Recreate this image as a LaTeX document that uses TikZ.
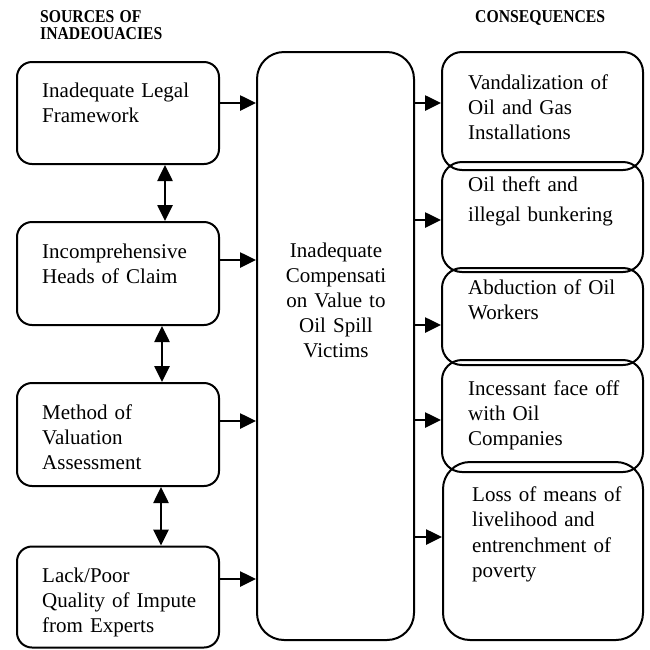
\documentclass[tikz,border=0pt]{standalone}
\usepackage{fontspec}
\setmainfont{Liberation Serif}
\usetikzlibrary{arrows.meta}

\tikzset{
  box/.style={draw, line width=2pt, rounded corners=15pt},
  txt/.style={anchor=base west, align=left, text width=190pt, inner sep=0pt,
    font=\fontsize{21}{25}\selectfont},
  heading/.style={anchor=base west, align=left, text width=150pt, inner sep=0pt,
    font=\bfseries\fontsize{15.7}{14.4}\selectfont, yscale=1.15, transform shape},
  arr/.style={line width=2.6pt, -{Triangle[length=16pt,width=15pt]}},
  dbl/.style={line width=2.6pt,
    {Triangle[length=16pt,width=15pt]}-{Triangle[length=16pt,width=15pt]}},
}

\begin{document}
\begin{tikzpicture}[x=1pt, y=-1pt]

    % Fix the page to the size of the figure
    \useasboundingbox (0,0) rectangle (650,649);

    % Column headings
    \node[heading] (hsrc) at (40,22.5) {SOURCES OF\\INADEOUACIES};
    \node[heading] (hcons) at (475,22) {CONSEQUENCES};

    % Sources (left column)
    \node[box, minimum width=202pt, minimum height=102pt] (L1) at (118,113) {};
    \node[box, minimum width=202pt, minimum height=103pt] (L2) at (118,273.5) {};
    \node[box, minimum width=202pt, minimum height=103pt] (L3) at (118,434.5) {};
    \node[box, minimum width=202pt, minimum height=101pt] (L4) at (118,597) {};

    \node[txt] (tL1) at (42,97) {Inadequate Legal\\Framework};
    \node[txt] (tL2) at (42,258) {Incomprehensive\\Heads of Claim};
    \node[txt] (tL3) at (42,419) {Method of\\Valuation\\Assessment};
    \node[txt] (tL4) at (42,582) {Lack/Poor\\Quality of Impute\\from Experts};

    % Central box
    \node[box, rounded corners=27pt, minimum width=157pt, minimum height=588pt] (C) at (335.5,346) {};
    \node[txt, anchor=base, align=center, text width=150pt] (tC) at (336,257)
        {Inadequate\\Compensati\\on Value to\\Oil Spill\\Victims};

    % Consequences (right column)
    \node[box, rounded corners=20pt, minimum width=201pt, minimum height=118pt] (R1) at (542.5,111) {};
    \node[box, rounded corners=20pt, minimum width=201pt, minimum height=110pt] (R2) at (542.5,217) {};
    \node[box, rounded corners=20pt, minimum width=201pt, minimum height=97pt] (R3) at (542.5,316.5) {};
    \node[box, rounded corners=20pt, minimum width=201pt, minimum height=112pt] (R4) at (542.5,416) {};
    \node[box, rounded corners=27pt, minimum width=200pt, minimum height=178pt] (R5) at (543,551) {};

    \node[txt] (tR1) at (468,89) {Vandalization of\\Oil and Gas\\Installations};
    \node[txt, font=\fontsize{21}{30}\selectfont] (tR2) at (468,191) {Oil theft and\\illegal bunkering};
    \node[txt] (tR3) at (468,294) {Abduction of Oil\\Workers};
    \node[txt] (tR4) at (468,395) {Incessant face off\\with Oil\\Companies};
    \node[txt, font=\fontsize{21}{25.5}\selectfont] (tR5) at (472,501) {Loss of means of\\livelihood and\\entrenchment of\\poverty};

    % Links between the sources
    \draw[dbl] (165,0 |- L1.south) -- (165,0 |- L2.north);
    \draw[dbl] (162,0 |- L2.south) -- (162,0 |- L3.north);
    \draw[dbl] (161,0 |- L3.south) -- (161,0 |- L4.north);

    % Sources into the central box
    \draw[arr] (L1.east |- 0,103) -- (C.west |- 0,103);
    \draw[arr] (L2.east |- 0,260) -- (C.west |- 0,260);
    \draw[arr] (L3.east |- 0,421) -- (C.west |- 0,421);
    \draw[arr] (L4.east |- 0,579) -- (C.west |- 0,579);

    % Central box out to the consequences
    \draw[arr] (C.east |- 0,103) -- (R1.west |- 0,103);
    \draw[arr] (C.east |- 0,220) -- (R2.west |- 0,220);
    \draw[arr] (C.east |- 0,325) -- (R3.west |- 0,325);
    \draw[arr] (C.east |- 0,420) -- (R4.west |- 0,420);
    \draw[arr] (C.east |- 0,537) -- (R5.west |- 0,537);

\end{tikzpicture}
\end{document}
